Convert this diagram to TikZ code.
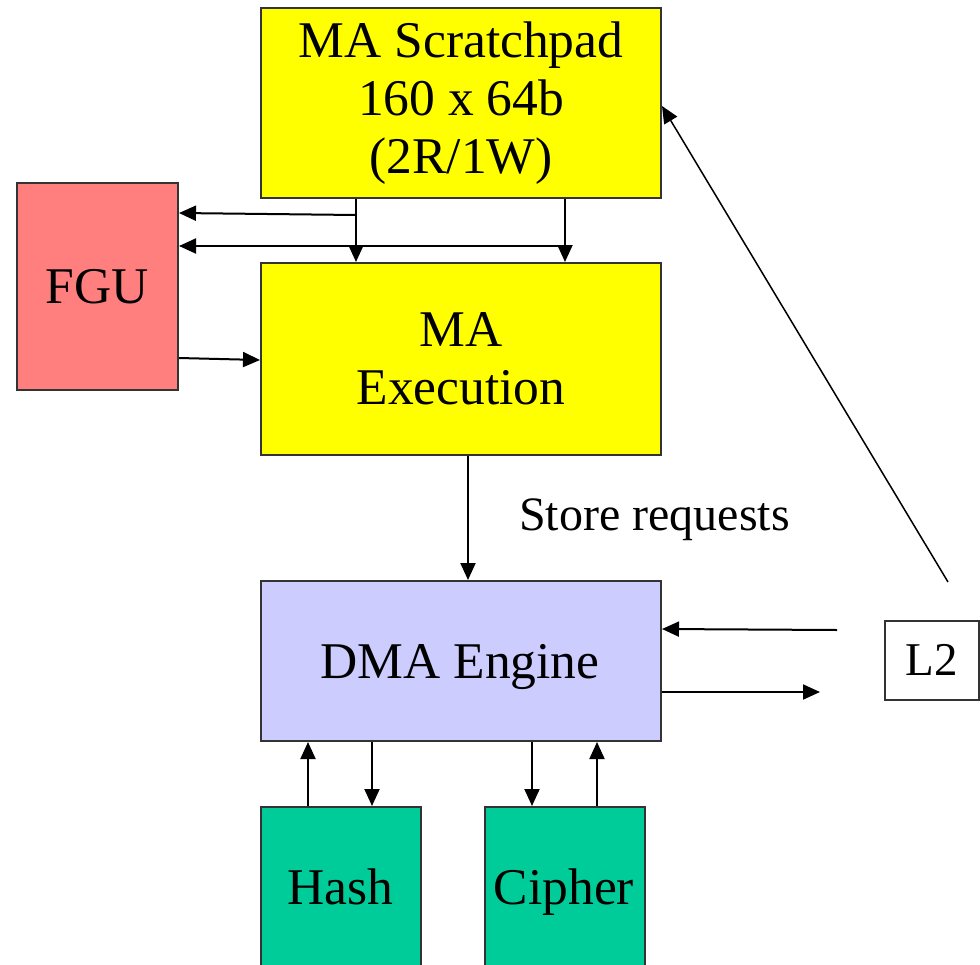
\documentclass[tikz,border=0pt]{standalone}
\usepackage{fontspec}
\setmainfont{Liberation Serif}
\usetikzlibrary{arrows.meta}
\definecolor{padyellow}{HTML}{FFFF00}
\definecolor{fgured}{HTML}{FF7F7F}
\definecolor{dmablue}{HTML}{CCCCFF}
\definecolor{unitgreen}{HTML}{00CC99}
\definecolor{edgegray}{HTML}{333333}
\tikzset{
  blk/.style={draw=edgegray, line width=2pt, rectangle, anchor=north west,
    inner sep=0pt, align=center, font=\fontsize{51.5}{58}\selectfont},
  blktext/.style={font=\fontsize{51.5}{58}\selectfont, inner sep=0pt, anchor=base},
  arr/.style={line width=2pt, -{Triangle[length=17pt,width=15pt]}},
  lbl/.style={font=\fontsize{48}{54}\selectfont, inner sep=0pt}
}
\begin{document}
\begin{tikzpicture}[x=1pt,y=-1pt]
\useasboundingbox (0,0) rectangle (980,964);
\clip (0,0) rectangle (980,964);

% functional blocks
\node[blk, fill=padyellow, minimum width=400pt, minimum height=190pt] (sp) at (260,7)
  {MA Scratchpad\\160 x 64b\\(2R/1W)};
\node[blk, fill=fgured, minimum width=161pt, minimum height=207pt] (fgu) at (16,182) {FGU};
\node[blk, fill=padyellow, minimum width=400pt, minimum height=192pt] (ex) at (260,262)
  {MA\\Execution};
\node[blk, fill=dmablue, minimum width=400pt, minimum height=160pt] (dma) at (260,580) {};
\node[blktext] (dmat) at (460,678) {DMA Engine};
\node[blk, fill=unitgreen, minimum width=160pt, minimum height=200pt] (hash) at (260,806) {};
\node[blk, fill=unitgreen, minimum width=160pt, minimum height=200pt] (ciph) at (484,806) {};
\node[blktext] (hasht) at (340,904) {Hash};
\node[blktext] (cipht) at (564,904) {Cipher};
\node[draw=edgegray, line width=1.5pt, minimum width=94pt, minimum height=79pt, inner sep=0pt,
  anchor=north west, font=\fontsize{47}{54}\selectfont] (l2) at (884,620) {L2};

% label
\node[lbl, anchor=base west] (store) at (519,530) {Store requests};

% loose ends near L2
\coordinate (l2in) at (837,630);
\coordinate (l2out) at (820,692);
\coordinate (l2up) at (948,582);

% scratchpad reads
\draw[arr] (356,0 |- sp.south) -- (356,0 |- ex.north);
\draw[arr] (565,0 |- sp.south) -- (565,0 |- ex.north);
\draw[arr] (356,215) -- (180,213 -| fgu.east);
\draw[arr] (565,246) -- (180,246 -| fgu.east);

% FGU result into execution
\draw[arr] (fgu.east |- 0,358) -- (ex.west |- 0,360);

% execution to DMA
\draw[arr] (468,0 |- ex.south) -- (468,0 |- dma.north);

% DMA and L2
\draw[arr] (l2in) -- (dma.east |- 0,629);
\draw[arr] (dma.east |- 0,692) -- (l2out);
\draw[arr, line width=1.5pt] (l2up) -- (sp.east |- 0,106);

% DMA and hash / cipher units
\draw[arr] (308,0 |- hash.north) -- (308,0 |- dma.south);
\draw[arr] (372,0 |- dma.south) -- (372,0 |- hash.north);
\draw[arr] (532,0 |- dma.south) -- (532,0 |- ciph.north);
\draw[arr] (597,0 |- ciph.north) -- (597,0 |- dma.south);
\end{tikzpicture}
\end{document}
